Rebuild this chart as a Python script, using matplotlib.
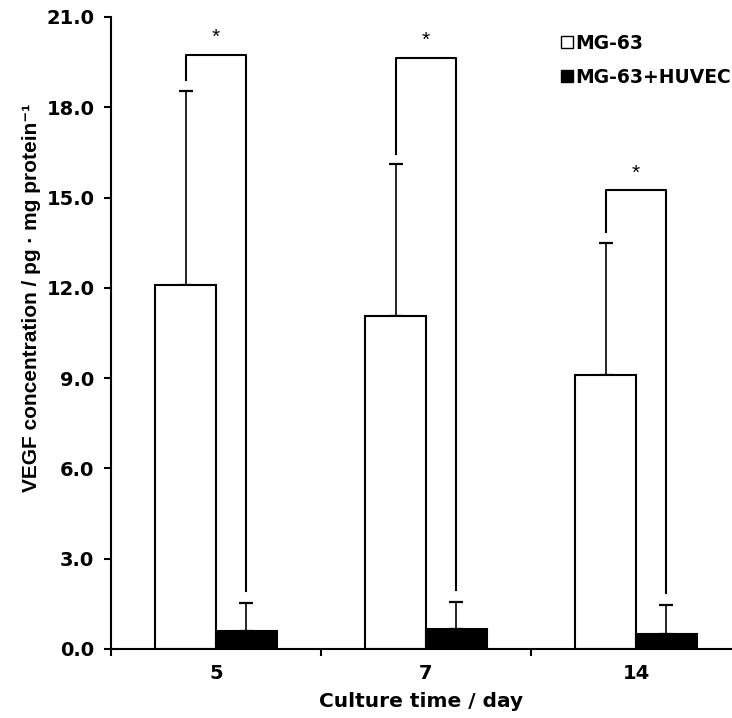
import numpy as np
import matplotlib
matplotlib.use("Agg")
import matplotlib.pyplot as plt
from matplotlib.lines import Line2D

# data
days = ["5", "7", "14"]
mg63 = [12.1, 11.05, 9.1]
mg63_err = [6.45, 5.05, 4.4]
cocult = [0.6, 0.65, 0.5]
cocult_err = [0.94, 0.9, 0.95]
bracket_y = [19.75, 19.65, 15.25]

wide = ["DejaVu Sans"]
narrow = ["Liberation Sans Narrow", "Liberation Sans", "DejaVu Sans"]
plt.rcParams["font.family"] = wide

fig = plt.figure(figsize=(7.32, 7.18), dpi=100)
ax = fig.add_axes([111 / 732, 1 - 649 / 718, 1 - 111 / 732, (649 - 17) / 718])

x = np.arange(len(days))
w = 0.29
ax.bar(x - w / 2, mg63, w, color="white", edgecolor="black", linewidth=1.5, zorder=2)
ax.bar(x + w / 2, cocult, w, color="black", edgecolor="black", linewidth=1.5, zorder=2)
ax.errorbar(x - w / 2, mg63, yerr=[np.zeros(3), mg63_err], fmt="none",
            ecolor="black", elinewidth=1.2, capsize=5, capthick=1.6, zorder=1)
ax.errorbar(x + w / 2, cocult, yerr=[np.zeros(3), cocult_err], fmt="none",
            ecolor="black", elinewidth=1.2, capsize=5, capthick=1.6, zorder=1)

# significance brackets
for i in range(len(days)):
    lo = mg63[i] + mg63_err[i] + 0.35
    ro = cocult[i] + cocult_err[i] + 0.4
    ax.plot([x[i] - w / 2, x[i] - w / 2, x[i] + w / 2, x[i] + w / 2],
            [lo, bracket_y[i], bracket_y[i], ro], color="black", lw=1.5)
    ax.text(x[i], bracket_y[i] + 0.25, "*", ha="center", va="bottom", fontsize=15,
            family=["Liberation Sans"])

ax.set_ylim(0, 21)
ax.set_yticks(np.arange(0, 21.1, 3))
ax.set_yticklabels([f"{v:.1f}" for v in np.arange(0, 21.1, 3)])
ax.set_xlim(-0.5, -0.5 + (732 - 111) / 210)
ax.set_xticks(x)
ax.set_xticklabels(days)
ax.set_xticks([-0.5, 0.5, 1.5], minor=True)
ax.tick_params(axis="x", which="major", length=0, pad=11)
ax.tick_params(axis="x", which="minor", length=5, width=1.5, direction="out")
ax.tick_params(axis="y", length=5, width=1.5, direction="out", pad=7)
for lab in ax.get_xticklabels() + ax.get_yticklabels():
    lab.set_fontweight("bold")
    lab.set_fontsize(14)

ax.spines["top"].set_visible(False)
ax.spines["right"].set_visible(False)
ax.spines["left"].set_linewidth(1.5)
ax.spines["bottom"].set_linewidth(1.5)

ax.set_xlabel("Culture time / day", fontsize=14.5, fontweight="bold", labelpad=6)
ax.set_ylabel("VEGF concentration / pg \u00b7 mg protein\u207b\u00b9",
              fontsize=15, fontweight="bold", family=narrow)
ax.yaxis.set_label_coords(-0.112, 0.555)

handles = [
    Line2D([], [], marker="s", ls="none", mfc="white", mec="black", ms=8, mew=1),
    Line2D([], [], marker="s", ls="none", mfc="black", mec="black", ms=8, mew=1),
]
ax.legend(handles, ["MG-63", "MG-63+HUVEC"], loc="upper left",
          bbox_to_anchor=(0.7, 1.0), frameon=False, handlelength=0.5,
          handletextpad=0.2, labelspacing=0.8,
          prop={"weight": "bold", "size": 13.5})

fig.savefig("out.png", dpi=100)
